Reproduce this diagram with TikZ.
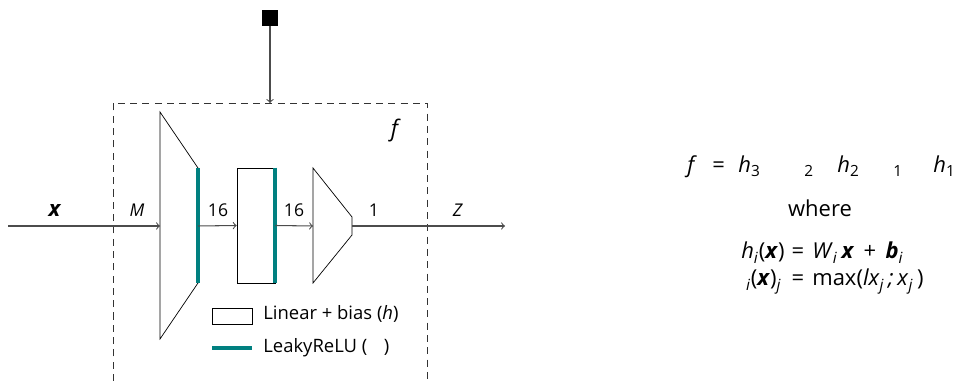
\documentclass[tikz,border=0pt]{standalone}
\usepackage{fontspec}
\setmainfont{Open Sans}
\definecolor{reluteal}{RGB}{0,128,128}
\begin{document}
\begin{tikzpicture}[x=0.02cm,y=-0.02cm,
    flow/.style={->,black!70,semithick},
    layer/.style={draw=black,thin},
    relu/.style={draw=reluteal,line width=2.3pt},
    lbl/.style={anchor=base,inner sep=0pt,font=\fontsize{10}{11}\selectfont},
    eq/.style={anchor=base west,inner sep=0pt,font=\fontsize{12.5}{14}\selectfont}]
    \useasboundingbox (0,0) rectangle (957,381);
    % frame of f (open at the bottom)
    \draw[dash pattern=on 4pt off 3pt,black!80] (113,381) -- (113,103) -- (427,103) -- (427,381);
    % parameters
    \node[fill=black,minimum size=0.32cm,inner sep=0pt] (theta) at (270,18) {};
    \coordinate (ftop) at (270,103);
    \draw[flow] (theta) -- (ftop);
    % layer 1
    \coordinate (xin) at (8,226);
    \coordinate (l1in) at (160,226);
    \coordinate (l1out) at (198,226);
    \draw[layer] (160,112) -- (198,168) -- (198,283) -- (160,339) -- cycle;
    \draw[relu] (198,168) -- (198,283);
    \draw[flow] (xin) -- (l1in);
    % layer 2
    \node[layer,minimum width=0.76cm,minimum height=2.3cm,inner sep=0pt] (l2) at (256,225.5) {};
    \draw[relu] (l2.north east) -- (l2.south east);
    \draw[flow] (l1out) -- (l2.west);
    % layer 3
    \coordinate (l3in) at (313,226);
    \coordinate (l3out) at (352,226);
    \coordinate (zout) at (505,226);
    \draw[layer] (313,168) -- (352,217) -- (352,235) -- (313,283) -- cycle;
    \draw[flow] (l2.east) -- (l3in);
    \draw[flow] (l3out) -- (zout);
    % labels
    \node[lbl,font=\fontsize{12.5}{14}\selectfont] (xlbl) at (55,217) {\textbf{\textit{x}}};
    \node[lbl] (mlbl) at (137,217) {\textit{M}};
    \node[lbl] (d1) at (218,217) {16};
    \node[lbl] (d2) at (294,217) {16};
    \node[lbl] (d3) at (374,217) {1};
    \node[lbl] (zlbl) at (458,217) {\textit{Z}};
    \node[lbl,font=\fontsize{13}{14}\selectfont] (flbl) at (396,137) {\textit{f}};
    % legend
    \node[layer,minimum width=0.8cm,minimum height=0.32cm,inner sep=0pt] (legbox) at (232,316) {};
    \node[lbl,anchor=base west,font=\fontsize{10.5}{12}\selectfont] (legh) at (263,320) {Linear + bias (\textit{h})};
    \coordinate (legA) at (212,348);
    \coordinate (legB) at (252,348);
    \draw[relu] (legA) -- (legB);
    \node[lbl,anchor=base west,font=\fontsize{10.5}{12}\selectfont] (legs) at (263,353) {LeakyReLU (\hspace{0.9em})};
    % definition of f
    \node[eq] (e1) at (687,173) {\textit{f}};
    \node[eq] (e2) at (712,173) {=};
    \node[eq] (e3) at (738,173) {\textit{h}\textsubscript{3}};
    \node[eq] (e4) at (804,173) {\textsubscript{2}};
    \node[eq] (e5) at (837,173) {\textit{h}\textsubscript{2}};
    \node[eq] (e6) at (893,173) {\textsubscript{1}};
    \node[eq] (e7) at (933,173) {\textit{h}\textsubscript{1}};
    \node[eq,anchor=base] (where) at (820,217) {where};
    \node[eq,anchor=base east] (hl) at (785,259) {\textit{h}\textsubscript{\textit{i}}(\textbf{\textit{x}})};
    \node[eq,anchor=base] (heq) at (798,259) {=};
    \node[eq] (hr) at (812,259) {\textit{W}\textsubscript{\textit{i}}\,\textbf{\textit{x}}\, + \,\textbf{\textit{b}}\textsubscript{\textit{i}}};
    \node[eq,anchor=base east] (sl) at (782,286) {\textsubscript{\textit{i}}(\textbf{\textit{x}})\textsubscript{\textit{j}}};
    \node[eq,anchor=base] (seq) at (798,286) {=};
    \node[eq] (sr) at (812,286) {max(\textit{lx}\textsubscript{\textit{j}}\,\textit{;}\,\textit{x}\textsubscript{\textit{j}}\,)};
\end{tikzpicture}
\end{document}
